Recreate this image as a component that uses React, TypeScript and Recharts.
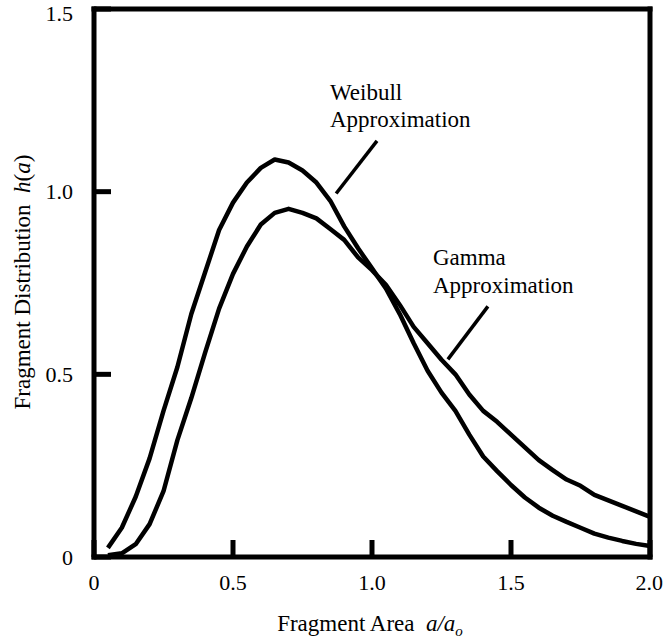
import { LineChart, Line, XAxis, YAxis, ReferenceLine } from 'recharts'

const area = [0.05, 0.1, 0.15, 0.2, 0.25, 0.3, 0.35, 0.4, 0.45, 0.5, 0.55, 0.6, 0.65, 0.7, 0.75, 0.8, 0.85, 0.9, 0.95, 1.0,
  1.05, 1.1, 1.15, 1.2, 1.25, 1.3, 1.35, 1.4, 1.45, 1.5, 1.55, 1.6, 1.65, 1.7, 1.75, 1.8, 1.85, 1.9, 1.95, 2.0]

const weibull = [0.025, 0.08, 0.165, 0.27, 0.4, 0.52, 0.665, 0.78, 0.895, 0.97, 1.025, 1.065, 1.088, 1.08, 1.058, 1.025, 0.975, 0.905, 0.845, 0.79,
  0.735, 0.665, 0.585, 0.51, 0.45, 0.4, 0.335, 0.275, 0.235, 0.197, 0.163, 0.135, 0.113, 0.096, 0.08, 0.064, 0.053, 0.044, 0.036, 0.03]

const gamma = [0.005, 0.01, 0.035, 0.09, 0.18, 0.32, 0.435, 0.56, 0.68, 0.775, 0.85, 0.91, 0.942, 0.953, 0.942, 0.927, 0.898, 0.868, 0.82, 0.785,
  0.745, 0.69, 0.63, 0.585, 0.54, 0.5, 0.445, 0.4, 0.37, 0.335, 0.3, 0.265, 0.238, 0.212, 0.195, 0.17, 0.155, 0.14, 0.125, 0.11]

const xTicks = [0, 0.5, 1.0, 1.5, 2.0]
const yTicks = [0, 0.5, 1.0, 1.5]

// leader lines from the labels to the curves, in data units
const weibullPointer = [{ x: 1.018, y: 1.139 }, { x: 0.871, y: 0.995 }]
const gammaPointer = [{ x: 1.417, y: 0.686 }, { x: 1.273, y: 0.541 }]

const data = area.map((a, i) => ({ a, weibull: weibull[i], gamma: gamma[i] }))

const font = '"Liberation Serif", "Times New Roman", serif'
const frame = { stroke: '#000', strokeWidth: 5, strokeLinecap: 'square' as const }
const tickLine = { stroke: '#000', strokeWidth: 5 }
const tickStyle = { fill: '#000', fontSize: 22, fontFamily: font }

const fmt = (v: number) => (v === 0 ? '0' : v.toFixed(1))

export default function App() {
  return (
    <div style={{ position: 'absolute', left: 0, top: 0, width: 663, height: 640, background: '#fff' }}>
      <LineChart width={663} height={640} data={data} margin={{ top: 8, right: 12, left: 34, bottom: 23 }}>
        <XAxis
          xAxisId="b"
          type="number"
          dataKey="a"
          domain={[0, 2]}
          ticks={xTicks}
          tickFormatter={fmt}
          height={60}
          axisLine={frame}
          tickLine={tickLine}
          tickSize={-17}
          tickMargin={34}
          tick={tickStyle}
        />
        <XAxis
          xAxisId="t"
          orientation="top"
          type="number"
          dataKey="a"
          domain={[0, 2]}
          ticks={xTicks}
          height={1}
          axisLine={frame}
          tickLine={tickLine}
          tickSize={-17}
          tick={false}
        />
        <YAxis
          yAxisId="l"
          type="number"
          domain={[0, 1.5]}
          ticks={yTicks}
          tickFormatter={fmt}
          width={60}
          axisLine={frame}
          tickLine={tickLine}
          tickSize={-17}
          tickMargin={38}
          tick={tickStyle}
        />
        <YAxis
          yAxisId="r"
          orientation="right"
          type="number"
          domain={[0, 1.5]}
          ticks={yTicks}
          width={1}
          axisLine={frame}
          tickLine={tickLine}
          tickSize={-17}
          tick={false}
        />
        <Line xAxisId="b" yAxisId="l" type="linear" dataKey="weibull" stroke="#000" strokeWidth={4.5} strokeLinejoin="round" dot={false} isAnimationActive={false} />
        <Line xAxisId="b" yAxisId="l" type="linear" dataKey="gamma" stroke="#000" strokeWidth={4.5} strokeLinejoin="round" dot={false} isAnimationActive={false} />
        <ReferenceLine xAxisId="b" yAxisId="l" segment={weibullPointer} stroke="#000" strokeWidth={3.5} />
        <ReferenceLine xAxisId="b" yAxisId="l" segment={gammaPointer} stroke="#000" strokeWidth={3.5} />
      </LineChart>
      <svg width={663} height={640} style={{ position: 'absolute', left: 0, top: 0, pointerEvents: 'none' }} fontFamily={font} fill="#000">
        <text x={330} y={100} fontSize={23}>Weibull</text>
        <text x={330} y={127} fontSize={23}>Approximation</text>
        <text x={433} y={265} fontSize={23}>Gamma</text>
        <text x={433} y={293} fontSize={23}>Approximation</text>
        <text x={370} y={631} fontSize={23} textAnchor="middle">
          Fragment Area{'\u00a0\u00a0'}<tspan fontStyle="italic">a/a</tspan>
          <tspan fontStyle="italic" fontSize={15} dy={5}>o</tspan>
        </text>
        <text x={30} y={282} fontSize={23} textAnchor="middle" transform="rotate(-90 30 282)">
          Fragment Distribution{'\u00a0\u00a0'}<tspan fontStyle="italic">h</tspan>(<tspan fontStyle="italic">a</tspan>)
        </text>
      </svg>
    </div>
  )
}
